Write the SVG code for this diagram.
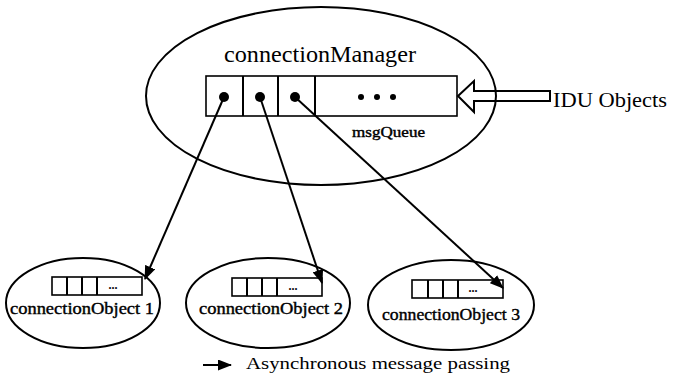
<svg xmlns="http://www.w3.org/2000/svg" width="673" height="378" viewBox="0 0 673 378">
  <defs>
    <style>
      .shape { fill: none; stroke: #000; stroke-width: 2; }
      .cell { fill: #fff; stroke: #000; stroke-width: 1.6; }
      .label { font-family: "Liberation Serif", "Times New Roman", serif; fill: #000; }
      .small { stroke: #000; stroke-width: 0.4; }
      .link { fill: none; stroke: #000; stroke-width: 2; marker-end: url(#head); }
    </style>
    <marker id="head" viewBox="0 0 14 11" refX="13" refY="5.5" markerWidth="14" markerHeight="11" markerUnits="userSpaceOnUse" orient="auto">
      <path d="M0,0 L14,5.5 L0,11 Z" fill="#000"/>
    </marker>
  </defs>

  <rect width="673" height="378" fill="#fff"/>

  <!-- manager node with its message queue -->
  <g id="connectionManager">
    <ellipse class="shape" cx="321" cy="96" rx="175" ry="89"/>
    <text class="label" x="320" y="62" font-size="24" text-anchor="middle" textLength="192" lengthAdjust="spacingAndGlyphs">connectionManager</text>
    <rect class="cell" x="206" y="76" width="251" height="40"/>
    <line class="shape" x1="243" y1="76" x2="243" y2="116" stroke-width="1.6"/>
    <line class="shape" x1="278" y1="76" x2="278" y2="116" stroke-width="1.6"/>
    <line class="shape" x1="315" y1="76" x2="315" y2="116" stroke-width="1.6"/>
    <circle cx="224" cy="97" r="5" fill="#000"/>
    <circle cx="260" cy="97" r="5" fill="#000"/>
    <circle cx="295" cy="97" r="5" fill="#000"/>
    <circle cx="361" cy="97" r="3" fill="#000"/>
    <circle cx="377" cy="97" r="3" fill="#000"/>
    <circle cx="393" cy="97" r="3" fill="#000"/>
    <text class="label small" x="352" y="137" font-size="14" textLength="73" lengthAdjust="spacingAndGlyphs">msgQueue</text>
  </g>

  <!-- incoming IDU objects -->
  <g id="iduObjects">
    <path class="shape" d="M458,96 L474,81 L474,91 L550,91 L550,101 L474,101 L474,112 Z" fill="#fff"/>
    <text class="label" x="553" y="107" font-size="21" textLength="114" lengthAdjust="spacingAndGlyphs">IDU Objects</text>
  </g>

  <g id="connectionObject1">
    <ellipse class="shape" cx="83" cy="303" rx="77" ry="45"/>
    <rect class="cell" x="52" y="277" width="90" height="18"/>
    <line class="shape" x1="67" y1="277" x2="67" y2="295" stroke-width="1.6"/>
    <line class="shape" x1="82" y1="277" x2="82" y2="295" stroke-width="1.6"/>
    <line class="shape" x1="97" y1="277" x2="97" y2="295" stroke-width="1.6"/>
    <text class="label" x="113" y="289" font-size="12" text-anchor="middle" font-weight="bold">...</text>
    <text class="label small" x="10" y="314" font-size="17" textLength="144" lengthAdjust="spacingAndGlyphs">connectionObject 1</text>
  </g>

  <g id="connectionObject2">
    <ellipse class="shape" cx="268" cy="303" rx="82" ry="45"/>
    <rect class="cell" x="232" y="278" width="90" height="18"/>
    <line class="shape" x1="247" y1="278" x2="247" y2="296" stroke-width="1.6"/>
    <line class="shape" x1="262" y1="278" x2="262" y2="296" stroke-width="1.6"/>
    <line class="shape" x1="277" y1="278" x2="277" y2="296" stroke-width="1.6"/>
    <text class="label" x="293" y="290" font-size="12" text-anchor="middle" font-weight="bold">...</text>
    <text class="label small" x="199" y="314" font-size="17" textLength="144" lengthAdjust="spacingAndGlyphs">connectionObject 2</text>
  </g>

  <g id="connectionObject3">
    <ellipse class="shape" cx="451" cy="305" rx="83" ry="45"/>
    <rect class="cell" x="412" y="280" width="91" height="18"/>
    <line class="shape" x1="428" y1="280" x2="428" y2="298" stroke-width="1.6"/>
    <line class="shape" x1="443" y1="280" x2="443" y2="298" stroke-width="1.6"/>
    <line class="shape" x1="458" y1="280" x2="458" y2="298" stroke-width="1.6"/>
    <text class="label" x="473" y="292" font-size="12" text-anchor="middle" font-weight="bold">...</text>
    <text class="label small" x="382" y="320" font-size="17" textLength="138" lengthAdjust="spacingAndGlyphs">connectionObject 3</text>
  </g>

  <!-- message passing links -->
  <g id="connectors">
    <line class="link" x1="224" y1="97" x2="145" y2="279"/>
    <line class="link" x1="260" y1="97" x2="322" y2="283"/>
    <line class="link" x1="295" y1="97" x2="503" y2="288"/>
  </g>

  <!-- legend -->
  <g id="legend">
    <line class="link" x1="203" y1="365" x2="231" y2="365"/>
    <text class="label" x="246" y="369" font-size="16" textLength="264" lengthAdjust="spacingAndGlyphs">Asynchronous message passing</text>
  </g>
</svg>
